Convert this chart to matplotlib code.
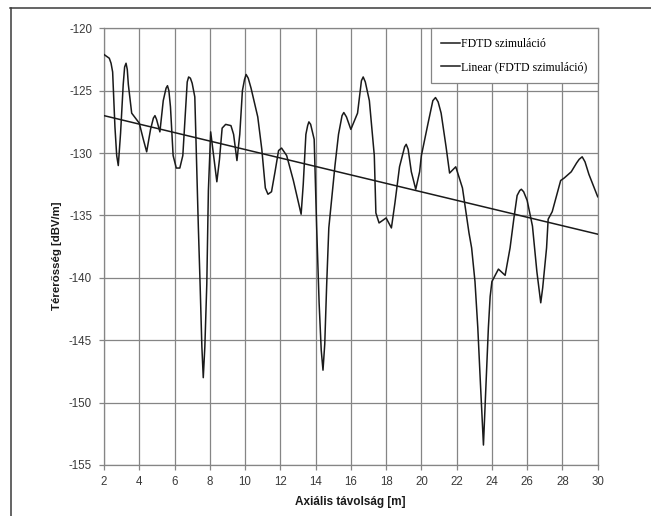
import matplotlib
matplotlib.use("Agg")
import matplotlib.pyplot as plt
from matplotlib.lines import Line2D

plt.rcParams["axes.unicode_minus"] = False

# ---- data ----
dist_m = [2.0, 2.3, 2.4, 2.49, 2.62, 2.72, 2.81, 2.94, 3.09, 3.17, 3.25, 3.32, 3.38, 3.57, 4.0,
          4.23, 4.42, 4.64, 4.8, 4.89, 4.98, 5.17, 5.36, 5.52, 5.6, 5.68, 5.77, 5.92, 6.1, 6.3,
          6.47, 6.66, 6.72, 6.8, 6.9, 7.0, 7.15, 7.35, 7.45, 7.55, 7.63, 7.72, 7.83, 7.92, 8.05,
          8.2, 8.4, 8.55, 8.7, 8.9, 9.2, 9.35, 9.54, 9.7, 9.85, 9.97, 10.06, 10.18, 10.34, 10.72,
          10.95, 11.15, 11.3, 11.5, 11.7, 11.9, 12.07, 12.36, 12.74, 13.0, 13.18, 13.3, 13.45,
          13.55, 13.62, 13.72, 13.92, 14.06, 14.2, 14.32, 14.42, 14.52, 14.63, 14.75, 15.1, 15.3,
          15.5, 15.6, 15.75, 16.0, 16.38, 16.6, 16.7, 16.82, 17.05, 17.33, 17.42, 17.6, 17.8,
          18.0, 18.3, 18.5, 18.76, 19.05, 19.14, 19.25, 19.43, 19.68, 19.9, 20.0, 20.38, 20.65,
          20.8, 20.95, 21.12, 21.4, 21.6, 21.95, 22.33, 22.7, 22.85, 23.04, 23.2, 23.35, 23.52,
          23.65, 23.8, 23.9, 24.0, 24.37, 24.75, 25.03, 25.24, 25.43, 25.58, 25.67, 25.8, 26.0,
          26.3, 26.55, 26.77, 26.88, 27.1, 27.19, 27.42, 27.9, 28.1, 28.5, 28.8, 28.95, 29.12,
          29.28, 29.5, 30.0]
field_dbv = [-122.1, -122.4, -122.8, -123.5, -127.9, -130.2, -131.0, -128.4, -124.5, -123.1,
             -122.8, -123.3, -124.5, -126.8, -127.6, -128.9, -129.9, -128.1, -127.2, -127.0,
             -127.3, -128.3, -125.8, -124.8, -124.6, -125.0, -126.3, -130.2, -131.2, -131.2,
             -130.2, -125.8, -124.3, -123.9, -124.0, -124.4, -125.5, -135.9, -140.5, -145.5,
             -148.0, -145.5, -140.5, -133.0, -128.3, -130.0, -132.3, -130.5, -128.0, -127.7,
             -127.8, -128.5, -130.6, -128.5, -125.0, -124.1, -123.7, -124.0, -124.8, -127.1,
             -129.7, -132.8, -133.3, -133.1, -131.5, -129.8, -129.6, -130.2, -132.2, -133.8,
             -134.9, -132.5, -128.5, -127.8, -127.5, -127.7, -128.9, -135.9, -142.0, -145.8,
             -147.4, -145.3, -140.5, -136.0, -131.0, -128.5, -127.0, -126.75, -127.1, -128.1,
             -126.8, -124.2, -123.9, -124.3, -125.8, -130.2, -134.8, -135.6, -135.4, -135.2,
             -136.0, -134.0, -131.1, -129.5, -129.3, -129.7, -131.5, -132.9, -131.5, -130.2,
             -127.6, -125.8, -125.55, -125.9, -126.8, -129.5, -131.6, -131.1, -132.8, -136.4,
             -137.6, -140.3, -144.0, -148.5, -153.4, -149.0, -144.0, -141.5, -140.3, -139.3,
             -139.8, -137.6, -135.3, -133.4, -133.0, -132.9, -133.1, -133.8, -135.85, -139.5,
             -142.0, -140.8, -137.6, -135.3, -134.7, -132.2, -132.0, -131.5, -130.8, -130.5,
             -130.3, -130.7, -131.7, -133.5]
trend_x = [2.0, 30.0]
trend_y = [-127.0, -136.5]
x_ticks = list(range(2, 31, 2))
y_ticks = [-155, -150, -145, -140, -135, -130, -125, -120]
series_labels = ["FDTD szimuláció", "Linear (FDTD szimuláció)"]
x_title = "Axiális távolság [m]"
y_title = "Térerősség [dBV/m]"

W, H = 651, 516
fig = plt.figure(figsize=(W / 100, H / 100), dpi=100)
fig.patch.set_facecolor("white")

# outer frame (left & top edges visible)
fig.add_artist(Line2D([10.5 / W, 10.5 / W], [0, 1 - 8.3 / H], transform=fig.transFigure,
                      color="#3a3a3a", lw=1.1))
fig.add_artist(Line2D([10 / W, 1], [1 - 8.3 / H, 1 - 8.3 / H], transform=fig.transFigure,
                      color="#3a3a3a", lw=1.1))

ax = fig.add_axes([104 / W, (H - 465) / H, 493.7 / W, 436.7 / H])
ax.set_facecolor("white")

line_col = "#1a1a1a"
ax.plot(dist_m, field_dbv, color=line_col, lw=1.1, solid_joinstyle="round", zorder=3,
        label=series_labels[0])
ax.plot(trend_x, trend_y, color=line_col, lw=1.1, zorder=3, label=series_labels[1])

ax.set_xlim(2, 30)
ax.set_ylim(-155, -120)
ax.set_xticks(x_ticks)
ax.set_yticks(y_ticks)
ax.grid(True, color="#858585", lw=0.9, zorder=0)
ax.set_axisbelow(True)
for s in ax.spines.values():
    s.set_color("#858585")
    s.set_linewidth(0.9)

ax.tick_params(axis="both", direction="out", length=3.6, width=0.9, color="#858585",
               labelsize=8.3, labelcolor="#3a3a3a")
ax.tick_params(axis="x", pad=4.0)
ax.tick_params(axis="y", pad=5)
for lab in ax.get_xticklabels() + ax.get_yticklabels():
    lab.set_family(["Liberation Sans", "DejaVu Sans"])

ax.set_xlabel(x_title, fontsize=8.5, fontweight="bold", family=["Liberation Sans", "DejaVu Sans"],
              color="#1a1a1a", va="center")
ax.set_ylabel(y_title, fontsize=8.2, fontweight="bold", family=["Liberation Sans", "DejaVu Sans"],
              color="#1a1a1a", va="center")
ax.xaxis.set_label_coords(0.498, -0.084)
ax.yaxis.set_label_coords(-0.0952, 0.4786)

leg = ax.legend(loc="upper right", bbox_to_anchor=(1.0, 1.0), borderaxespad=0,
                frameon=True, fancybox=False, framealpha=1, edgecolor="#858585",
                prop={"family": ["Liberation Serif", "DejaVu Serif"], "size": 8.5},
                handlelength=1.6, handletextpad=0.15, borderpad=0.85, labelspacing=0.9)
leg.get_frame().set_linewidth(0.9)
leg.set_zorder(5)

fig.savefig("out.png", dpi=100, facecolor="white")
